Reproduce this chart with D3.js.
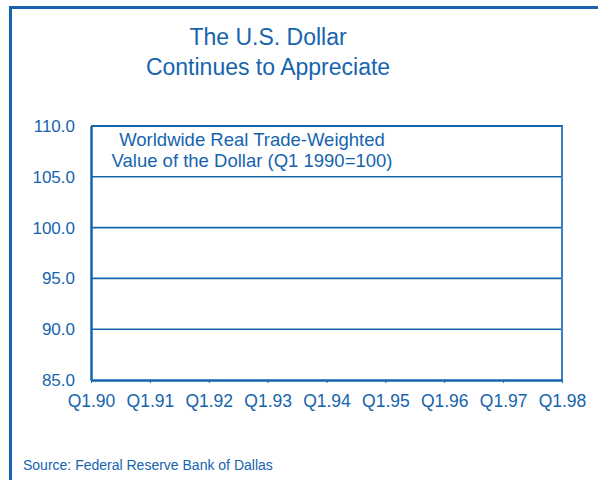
<!DOCTYPE html>
<meta charset="utf-8">
<head>
  <title>The U.S. Dollar Continues to Appreciate</title>
</head>

<style>
body {
  margin: 0;
  background: #fff;
}
text {
  font-family: "Liberation Sans", Arial, sans-serif;
  fill: #1664ae;
}
</style>

<body>
  <svg width="598" height="480"></svg>

  <script src="https://cdnjs.cloudflare.com/ajax/libs/d3/7.8.5/d3.min.js"></script>

  <script>
// chart data (the plot carries no series, only the axes)
var quarters = ['Q1.90', 'Q1.91', 'Q1.92', 'Q1.93', 'Q1.94', 'Q1.95', 'Q1.96', 'Q1.97', 'Q1.98'];
var yTicks = [85, 90, 95, 100, 105, 110];
var titleLines = ['The U.S. Dollar', 'Continues to Appreciate'];
var subtitleLines = ['Worldwide Real Trade-Weighted', 'Value of the Dollar (Q1 1990=100)'];
var source = 'Source: Federal Reserve Bank of Dallas';

var blue = '#1664ae';

var svg = d3.select('svg');

var plotLeft = 91, plotRight = 562, plotTop = 126, plotBottom = 380;

var x = d3.scalePoint()
  .domain(quarters)
  .range([plotLeft, plotRight]);

var y = d3.scaleLinear()
  .domain([85, 110])
  .range([plotBottom, plotTop]);

// outer frame
svg.append('rect')
  .attr('x', 10.5)
  .attr('y', 7.5)
  .attr('width', 700)
  .attr('height', 700)
  .attr('fill', 'none')
  .attr('stroke', blue)
  .attr('stroke-width', 3);

// title
svg.append('g')
  .selectAll('text')
  .data(titleLines)
  .join('text')
  .attr('x', 268)
  .attr('y', function(d, i) { return 45 + i * 30; })
  .attr('text-anchor', 'middle')
  .style('font-size', '23px')
  .text(function(d) { return d; });

// horizontal gridlines
svg.append('g')
  .selectAll('line')
  .data(yTicks.filter(function(d) { return d > 85 && d < 110; }))
  .join('line')
  .attr('x1', plotLeft)
  .attr('x2', plotRight)
  .attr('y1', function(d) { return y(d); })
  .attr('y2', function(d) { return y(d); })
  .attr('stroke', blue)
  .attr('stroke-width', 1.6);

// top and right borders of plot
svg.append('line')
  .attr('x1', plotLeft).attr('x2', plotRight + 1)
  .attr('y1', y(110)).attr('y2', y(110))
  .attr('stroke', blue).attr('stroke-width', 2);

svg.append('line')
  .attr('x1', plotRight).attr('x2', plotRight)
  .attr('y1', y(110)).attr('y2', y(85))
  .attr('stroke', '#3a7fc0').attr('stroke-width', 2);

// y axis
var yAxis = svg.append('g')
  .attr('transform', 'translate(' + plotLeft + ',0)')
  .call(d3.axisLeft(y)
    .tickValues(yTicks)
    .tickSize(0)
    .tickSizeOuter(0)
    .tickPadding(16)
    .tickFormat(d3.format('.1f')));

yAxis.select('.domain')
  .attr('stroke', blue)
  .attr('stroke-width', 2.5);

yAxis.selectAll('text')
  .style('font-size', '17px')
  .style('font-family', '"Liberation Sans", Arial, sans-serif')
  .attr('fill', blue);

// x axis
var xAxis = svg.append('g')
  .attr('transform', 'translate(0,' + plotBottom + ')')
  .call(d3.axisBottom(x)
    .tickSize(3)
    .tickSizeOuter(0)
    .tickPadding(12));

xAxis.select('.domain')
  .attr('stroke', blue)
  .attr('stroke-width', 2.5);

xAxis.selectAll('.tick line')
  .attr('stroke', blue);

xAxis.selectAll('text')
  .style('font-size', '17.5px')
  .style('font-family', '"Liberation Sans", Arial, sans-serif')
  .attr('fill', blue);

// subtitle inside plot
svg.append('g')
  .selectAll('text')
  .data(subtitleLines)
  .join('text')
  .attr('x', 252)
  .attr('y', function(d, i) { return 146 + i * 21; })
  .attr('text-anchor', 'middle')
  .style('font-size', '18.5px')
  .text(function(d) { return d; });

// source note
svg.append('text')
  .attr('x', 23)
  .attr('y', 470)
  .style('font-size', '14px')
  .text(source);
  </script>
</body>
</html>
